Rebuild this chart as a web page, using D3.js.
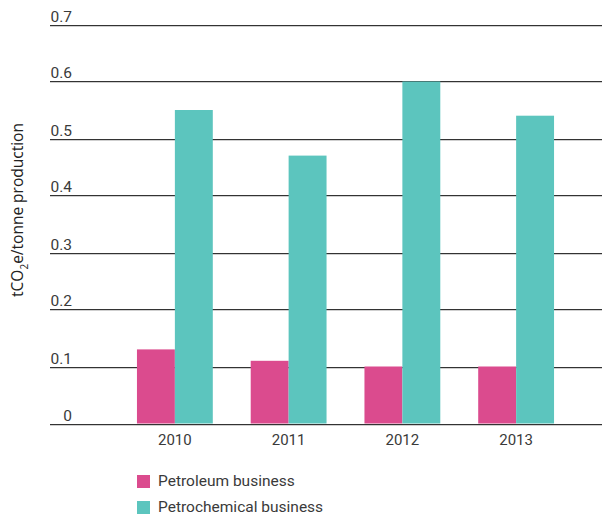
<!DOCTYPE html>
<html>
<head>
<meta charset="utf-8">
<script src="https://cdn.jsdelivr.net/npm/d3@7"></script>
<style>
  html, body { margin: 0; padding: 0; background: #fff; }
  svg { display: block; }
</style>
</head>
<body>
<svg id="chart" width="602" height="515"></svg>
<script>
// Emission intensity by year
const years = ["2010", "2011", "2012", "2013"];
const seriesNames = ["Petroleum business", "Petrochemical business"];
const petroleum = [0.13, 0.11, 0.10, 0.10];
const petrochemical = [0.55, 0.47, 0.60, 0.54];
const yTicks = [0, 0.1, 0.2, 0.3, 0.4, 0.5, 0.6, 0.7];
const colors = ["#db4b8e", "#5cc5be"];

const svg = d3.select("#chart");
const tickFont = "Roboto, 'DejaVu Sans', sans-serif";
const textColor = "#3a3a3a";

const y = d3.scaleLinear().domain([0, 0.7]).range([423.5, 24.5]);
const x0 = d3.scaleBand().domain(years).range([118, 573]).paddingInner(1 / 3).paddingOuter(1 / 6);
const x1 = d3.scaleBand().domain(seriesNames).range([0, x0.bandwidth()]);

// Gridlines with a soft shadow line underneath
const grid = svg.append("g");
grid.selectAll("line.shadow").data(yTicks).join("line")
  .attr("class", "shadow")
  .attr("x1", 50).attr("x2", 602)
  .attr("y1", d => Math.round(y(d)) + 1.5).attr("y2", d => Math.round(y(d)) + 1.5)
  .attr("stroke", "#cfcfcf").attr("stroke-width", 1);
grid.selectAll("line.main").data(yTicks).join("line")
  .attr("class", "main")
  .attr("x1", 50).attr("x2", 602)
  .attr("y1", d => Math.round(y(d)) + 0.5).attr("y2", d => Math.round(y(d)) + 0.5)
  .attr("stroke", "#333").attr("stroke-width", 1.2);

// Tick labels sit above their gridlines
grid.selectAll("text").data(yTicks).join("text")
  .attr("x", 72).attr("y", d => Math.round(y(d)) - 3)
  .attr("text-anchor", "end")
  .attr("font-family", tickFont).attr("font-size", 15.5)
  .attr("fill", textColor)
  .text(d => d === 0 ? "0" : d3.format(".1f")(d));

// Bars
const rows = years.map((yr, i) => ({ year: yr, values: [petroleum[i], petrochemical[i]] }));
const groups = svg.append("g").selectAll("g").data(rows).join("g")
  .attr("transform", d => `translate(${x0(d.year)},0)`);
groups.selectAll("rect").data(d => d.values.map((v, k) => ({ name: seriesNames[k], v, k })))
  .join("rect")
  .attr("x", d => x1(d.name))
  .attr("width", x1.bandwidth())
  .attr("y", d => y(d.v))
  .attr("height", d => y(0) - y(d.v))
  .attr("fill", d => colors[d.k]);

// Year labels
svg.append("g").selectAll("text").data(years).join("text")
  .attr("x", d => x0(d) + x0.bandwidth() / 2)
  .attr("y", 445)
  .attr("text-anchor", "middle")
  .attr("font-family", tickFont).attr("font-size", 15)
  .attr("fill", textColor)
  .text(d => d);

// Y-axis title with subscript
const title = svg.append("text")
  .attr("transform", "translate(23,210) rotate(-90)")
  .attr("text-anchor", "middle")
  .attr("font-family", "'Open Sans', sans-serif").attr("font-size", 15.5)
  .attr("fill", "#222");
title.append("tspan").text("tCO");
title.append("tspan").attr("font-size", 10).attr("dy", 5).text("2");
title.append("tspan").attr("dy", -5).text("e/tonne production");

// Legend
const legend = svg.append("g").selectAll("g").data(seriesNames).join("g")
  .attr("transform", (d, i) => `translate(137,${475 + i * 26})`);
legend.append("rect").attr("width", 13).attr("height", 13).attr("fill", (d, i) => colors[i]);
legend.append("text")
  .attr("x", 21).attr("y", 11)
  .attr("font-family", tickFont).attr("font-size", 15.5)
  .attr("fill", textColor)
  .text(d => d);
</script>
</body>
</html>
